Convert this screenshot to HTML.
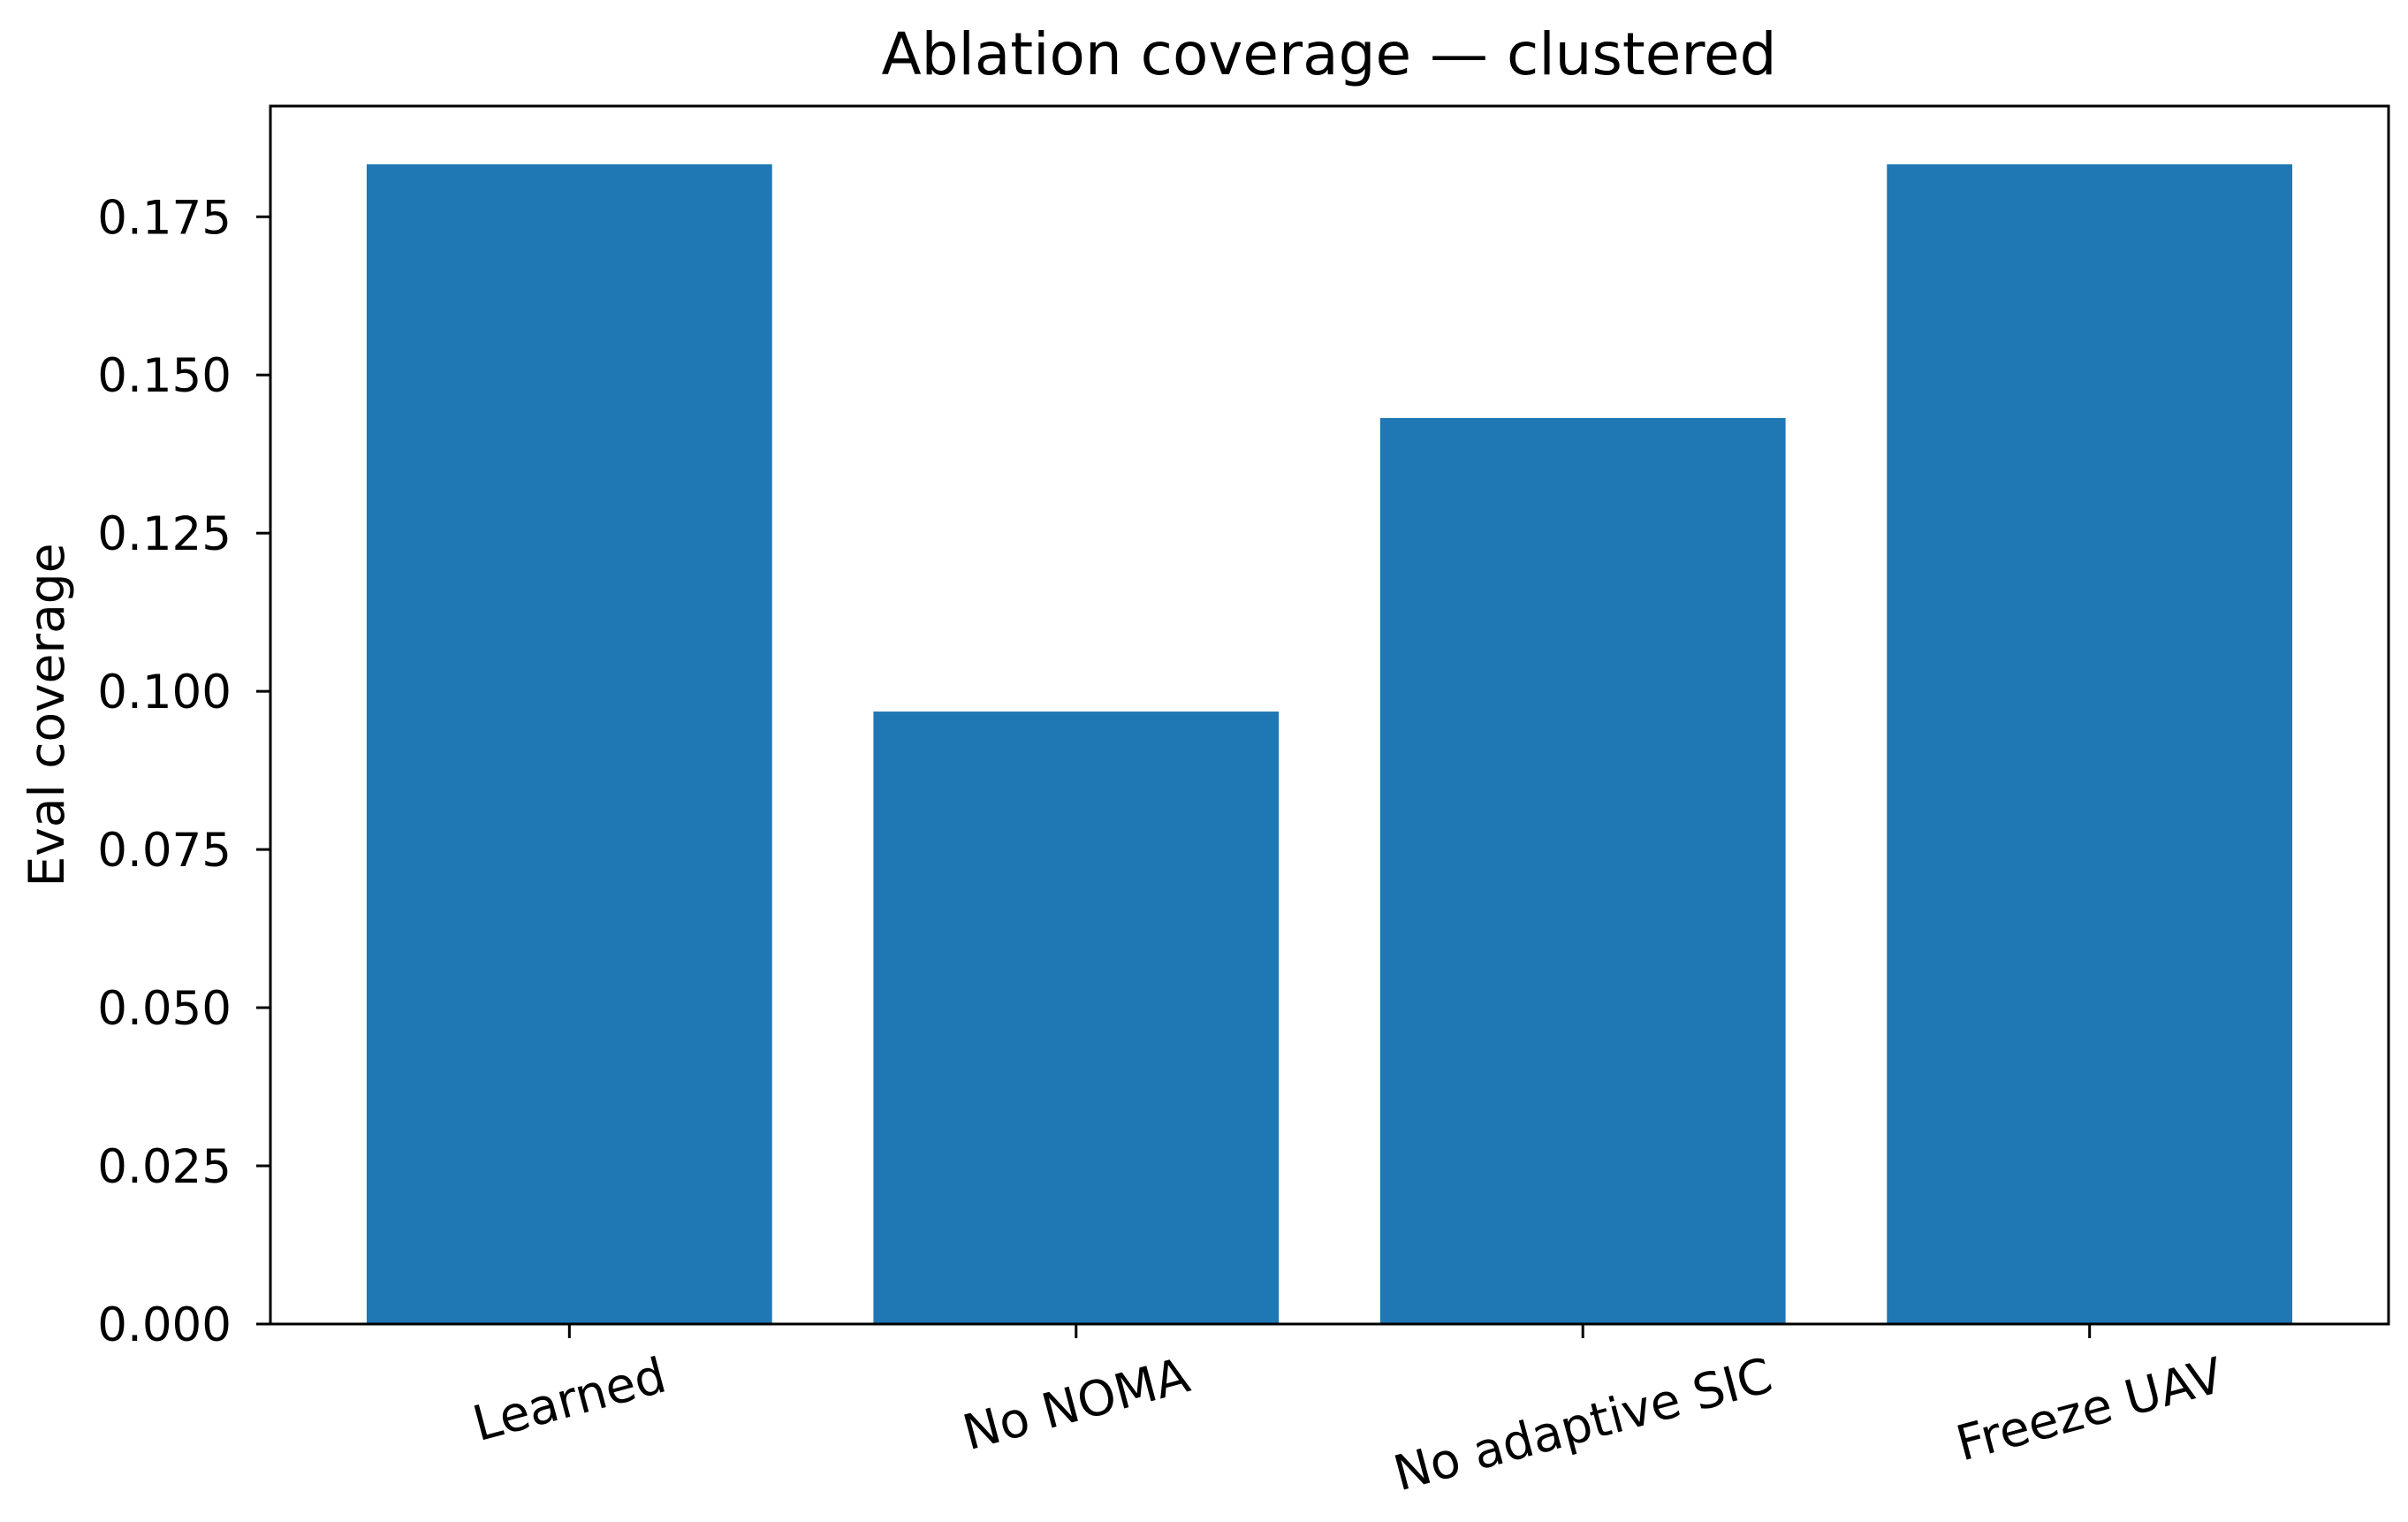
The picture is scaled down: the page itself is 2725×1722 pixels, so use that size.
<!DOCTYPE html>
<html><head><meta charset="utf-8"><style>
html,body{margin:0;padding:0;background:#fff;}
svg{display:block;font-family:"DejaVu Sans","Liberation Sans",sans-serif;}
</style></head><body>
<svg id="chart" width="2725" height="1722" viewBox="0 0 2725 1722" xmlns="http://www.w3.org/2000/svg">
<rect width="2725" height="1722" fill="#fff"/>
<text x="1504" y="84" font-size="66" text-anchor="middle" fill="#000">Ablation coverage — clustered</text>
<text transform="translate(72,809) rotate(-90)" font-size="55" text-anchor="middle" fill="#000">Eval coverage</text>
<g id="bars"></g><g id="yticks"></g><g id="xticks"></g>
<rect x="306" y="120" width="2397" height="1378" fill="none" stroke="#000" stroke-width="3"/>
</svg>
<script>
const categories = ["Learned", "No NOMA", "No adaptive SIC", "Freeze UAV"];
const values = [0.1833, 0.0968, 0.1432, 0.1833];
const yTicks = [0, 0.025, 0.05, 0.075, 0.1, 0.125, 0.15, 0.175];
const yTickLabels = ["0.000","0.025","0.050","0.075","0.100","0.125","0.150","0.175"];

const L=306,R=2703,T=120,B=1498;
const xmin=-0.59,xmax=3.59,ymin=0,ymax=0.1925;
const NS="http://www.w3.org/2000/svg";
function xs(v){return L+(v-xmin)/(xmax-xmin)*(R-L);}
function ys(v){return B-(v-ymin)/(ymax-ymin)*(B-T);}
function mk(t,a,p){const e=document.createElementNS(NS,t);for(const k in a)e.setAttribute(k,a[k]);p.appendChild(e);return e;}
const gb=document.getElementById('bars'),gy=document.getElementById('yticks'),gx=document.getElementById('xticks');
values.forEach((v,i)=>{
  const r=mk('rect',{x:xs(i-0.4),y:ys(v),width:xs(i+0.4)-xs(i-0.4),height:ys(0)-ys(v),fill:'#1f77b4'},gb);
  
  
});
yTicks.forEach((t,i)=>{
  const y=ys(t);
  const l=mk('line',{x1:L-16,x2:L,y1:y,y2:y,stroke:'#000','stroke-width':3},gy);
  
  
  const tx=mk('text',{x:L-44,y:y+19,'font-size':53,'text-anchor':'end',fill:'#000'},gy);
  tx.textContent=yTickLabels[i];
  
  
});
categories.forEach((c,i)=>{
  const x=xs(i);
  const l=mk('line',{x1:x,x2:x,y1:B,y2:B+16,stroke:'#000','stroke-width':3},gx);
  
  
  const tx=mk('text',{x:0,y:0,'font-size':55,'text-anchor':'middle',fill:'#000'},gx);
  tx.textContent=c;
  
  
  const w=tx.getComputedTextLength();
  const a=15*Math.PI/180;
  const h=w*Math.sin(a)+55*Math.cos(a);
  const cy=B+30+h/2;
  tx.setAttribute('transform','translate('+x+','+cy+') rotate(-15) translate(0,19)');
});
</script>
</body></html>
